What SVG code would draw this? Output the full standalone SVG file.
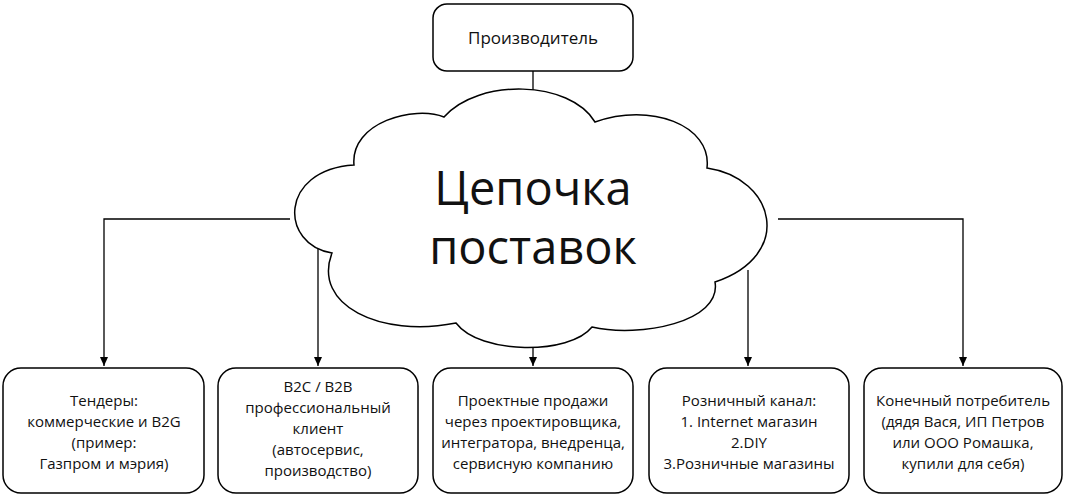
<svg xmlns="http://www.w3.org/2000/svg" width="1066" height="497" viewBox="0 0 1066 497">
<style>
.b{fill:#fff;stroke:#000;stroke-width:1.5}
.t{font-family:"Open Sans","Noto Sans",sans-serif;font-size:15px;fill:#111;text-anchor:middle}
.c{stroke:#000;stroke-width:1.3;fill:none}
</style>
<defs><marker id="a" markerWidth="10" markerHeight="10" refX="9" refY="5" orient="auto" markerUnits="userSpaceOnUse"><path d="M0,1 L9,5 L0,9 Z" fill="#000"/></marker></defs>
<rect width="1066" height="497" fill="#fff"/>
<g id="connectors">
<path class="c" d="M533,71 V92"/>
<path class="c" d="M290,219 H104 V366" marker-end="url(#a)"/>
<path class="c" d="M778,219 H963 V366" marker-end="url(#a)"/>
<path class="c" d="M318,247 V366" marker-end="url(#a)"/>
<path class="c" d="M533,346 V366" marker-end="url(#a)"/>
<path class="c" d="M748,270 V366" marker-end="url(#a)"/>
</g>
<g id="top"><rect class="b" x="433" y="4" width="200" height="67" rx="14"/><text class="t" x="533" y="44" style="font-size:17px">Производитель</text></g>
<g id="cloud">
<path class="b" d="M354,165 C350,122 415,105 444,117 C478,78 570,80 595,122 C650,102 712,125 707,168 C775,178 795,255 715,282 C722,322 640,338 592,327 C570,355 480,355 456,323 C380,338 312,305 332,253 C280,245 278,170 354,165 Z"/>
<text class="t" x="533" y="205" style="font-size:47px">Цепочка</text>
<text class="t" x="533" y="264" style="font-size:47px">поставок</text>
</g>
<g id="n1"><rect class="b" x="3" y="368" width="201" height="125" rx="18"/><text class="t" x="104" y="406">Тендеры:<tspan x="104" dy="21">коммерческие и B2G</tspan><tspan x="104" dy="21">(пример:</tspan><tspan x="104" dy="21">Газпром и мэрия)</tspan></text></g>
<g id="n2"><rect class="b" x="218" y="368" width="200" height="125" rx="18"/><text class="t" x="318" y="392">B2C / B2B<tspan x="318" dy="21">профессиональный</tspan><tspan x="318" dy="21">клиент</tspan><tspan x="318" dy="21">(автосервис,</tspan><tspan x="318" dy="21">производство)</tspan></text></g>
<g id="n3"><rect class="b" x="433" y="368" width="200" height="125" rx="18"/><text class="t" x="533" y="406">Проектные продажи<tspan x="533" dy="21">через проектировщика,</tspan><tspan x="533" dy="21">интегратора, внедренца,</tspan><tspan x="533" dy="21">сервисную компанию</tspan></text></g>
<g id="n4"><rect class="b" x="649" y="368" width="200" height="125" rx="18"/><text class="t" x="749" y="406">Розничный канал:<tspan x="749" dy="21">1. Internet магазин</tspan><tspan x="749" dy="21">2.DIY</tspan><tspan x="749" dy="21">3.Розничные магазины</tspan></text></g>
<g id="n5"><rect class="b" x="864" y="368" width="198" height="125" rx="18"/><text class="t" x="963" y="406">Конечный потребитель<tspan x="963" dy="21">(дядя Вася, ИП Петров</tspan><tspan x="963" dy="21">или ООО Ромашка,</tspan><tspan x="963" dy="21">купили для себя)</tspan></text></g>
</svg>
